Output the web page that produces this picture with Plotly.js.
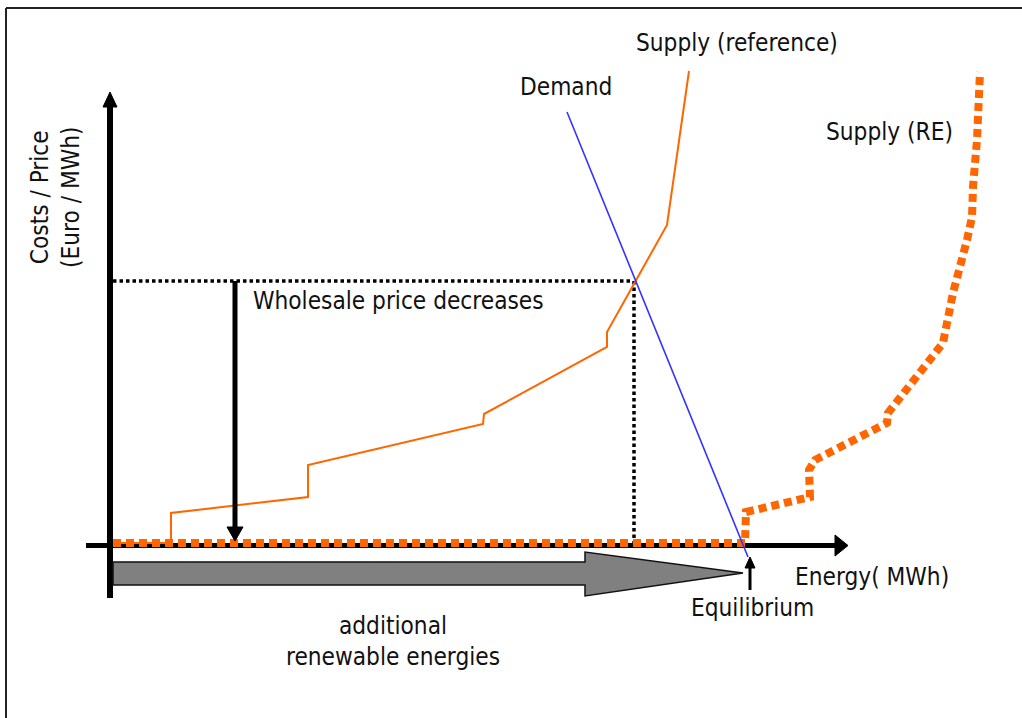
<!DOCTYPE html>
<html>
<head>
<meta charset="utf-8">
<script src="https://cdn.plot.ly/plotly-3.0.1.min.js"></script>
<style>html,body{margin:0;padding:0;background:#fff;}#chart{width:1022px;height:718px;}</style>
</head>
<body>
<div id="chart"></div>
<script>
// Schematic units: x = energy, y = price (origin at axis crossing)
var refSupplyX = [3, 61, 61, 198, 198, 373, 374, 497, 497, 557, 579];
var refSupplyY = [2, 2, 32, 48, 80, 121, 131, 198, 213, 320, 474];

var reSupplyX = [3, 635, 636, 700, 699, 705, 777, 778, 833, 843, 857, 862, 863, 867, 870];
var reSupplyY = [2, 2, 33, 48, 75, 85, 122, 132, 202, 252, 305, 328, 358, 405, 473];

var demandX = [457, 638];
var demandY = [433, -12];

var eqPriceX = [3, 523];
var eqPriceY = [264, 264];
var eqQtyX = [524, 524];
var eqQtyY = [264, 2];

var FONT = '"DejaVu Sans Condensed", "DejaVu Sans", sans-serif';
var FS = 24.2;

var traces = [
  {x: eqPriceX, y: eqPriceY, mode: 'lines', line: {color: '#000', width: 3.5, dash: '3.5px,3px'}, hoverinfo: 'skip'},
  {x: eqQtyX, y: eqQtyY, mode: 'lines', line: {color: '#000', width: 3.5, dash: '3.5px,3px'}, hoverinfo: 'skip'},
  {x: reSupplyX, y: reSupplyY, mode: 'lines', line: {color: '#FF6600', width: 8, dash: '8px,5px'}, hoverinfo: 'skip'},
  {x: refSupplyX, y: refSupplyY, mode: 'lines', line: {color: '#FF6600', width: 2}, hoverinfo: 'skip'},
  {x: demandX, y: demandY, mode: 'lines', line: {color: '#3333FF', width: 1.6}, hoverinfo: 'skip'}
];

var shapes = [
  // frame (top and left)
  {type: 'line', x0: -104, x1: 920, y0: 537, y1: 537, line: {color: '#222', width: 2}, layer: 'below'},
  {type: 'line', x0: -104, x1: -104, y0: 537, y1: -180, line: {color: '#222', width: 2}, layer: 'below'},
  // x axis
  {type: 'line', x0: -24, x1: 727, y0: -0.5, y1: -0.5, line: {color: '#000', width: 5}, layer: 'below'},
  {type: 'path', path: 'M725,10 L738,-0.5 L725,-11 Z', fillcolor: '#000', line: {color: '#000', width: 1}, layer: 'below'},
  // y axis
  {type: 'line', x0: 0, x1: 0, y0: -53, y1: 440, line: {color: '#000', width: 6}, layer: 'below'},
  {type: 'path', path: 'M-7,438 L0,453 L7,438 Z', fillcolor: '#000', line: {color: '#000', width: 1}, layer: 'below'},
  // wholesale price arrow
  {type: 'line', x0: 125, x1: 125, y0: 264, y1: 18, line: {color: '#000', width: 5}, layer: 'above'},
  {type: 'path', path: 'M117,18 L125,4 L133,18 Z', fillcolor: '#000', line: {color: '#000', width: 1}, layer: 'above'},
  // equilibrium arrow
  {type: 'line', x0: 640, x1: 640, y0: -45, y1: -22, line: {color: '#000', width: 3}, layer: 'above'},
  {type: 'path', path: 'M635,-23 L640,-12 L645,-23 Z', fillcolor: '#000', line: {color: '#000', width: 1}, layer: 'above'},
  // gray fat arrow (additional renewable energies)
  {type: 'path', path: 'M3,-17 L475,-17 L475,-7 L633,-28 L475,-51 L475,-40 L3,-40 Z', fillcolor: '#808080', line: {color: '#111', width: 1.5}, layer: 'below'}
];

function ann(text, x, y, extra) {
  var a = {text: text, x: x, y: y, xref: 'x', yref: 'y', showarrow: false, xanchor: 'center', yanchor: 'middle',
           font: {family: FONT, size: FS, color: '#111'}};
  for (var k in (extra || {})) a[k] = extra[k];
  return a;
}

var annotations = [
  ann('Supply (reference)', 627, 502),
  ann('Demand', 456, 458),
  ann('Supply (RE)', 779, 413),
  ann('Wholesale price decreases', 288, 244),
  ann('Energy( MWh)', 762, -32),
  ann('Equilibrium', 642, -63),
  ann('additional<br>renewable energies', 283, -96),
  ann('Costs / Price<br>(Euro / MWh)', -55, 348, {textangle: -90})
];

var layout = {
  width: 1022, height: 718,
  margin: {l: 0, r: 0, t: 0, b: 0},
  paper_bgcolor: '#fff', plot_bgcolor: '#fff',
  showlegend: false,
  xaxis: {range: [-110, 912], visible: false, fixedrange: true},
  yaxis: {range: [-173, 545], visible: false, fixedrange: true},
  shapes: shapes,
  annotations: annotations
};

Plotly.newPlot('chart', traces, layout, {staticPlot: true, displayModeBar: false});
</script>
</body>
</html>
